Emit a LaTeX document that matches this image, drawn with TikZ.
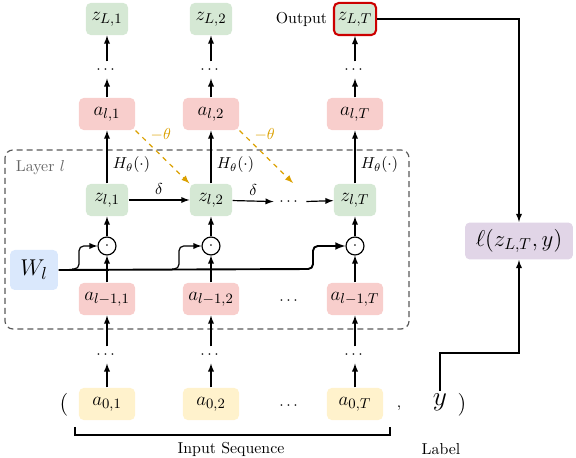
\documentclass[tikz,border=0pt]{standalone}
\usepackage{amssymb,amsmath}
\usepackage{tikz}
\usetikzlibrary{arrows}

\definecolor{zgreen}{HTML}{D5E8D4}
\definecolor{ared}{HTML}{F8CECC}
\definecolor{ayellow}{HTML}{FFF2CC}
\definecolor{wblue}{HTML}{DAE8FC}
\definecolor{lpurple}{HTML}{E1D5E7}
\definecolor{outred}{HTML}{CC0000}
\definecolor{gradorange}{HTML}{DBA000}

\begin{document}
\begin{tikzpicture}[x=0.63pt, y=-0.63pt, >=latex, line width=0.75pt,
  zbox/.style={fill=zgreen, rounded corners=3pt, minimum width=26.5pt, minimum height=20.2pt, inner sep=1pt, font=\fontsize{13}{15}\selectfont},
  abox/.style={fill=ared, rounded corners=3pt, minimum width=35.3pt, minimum height=20.2pt, inner sep=1pt, font=\fontsize{13}{15}\selectfont},
  inbox/.style={fill=ayellow, rounded corners=3pt, minimum width=35.3pt, minimum height=20.2pt, inner sep=1pt, font=\fontsize{13}{15}\selectfont},
  vdots/.style={inner sep=0pt, minimum height=10pt, minimum width=10pt},
  hdots/.style={inner sep=0pt, minimum height=10pt, minimum width=20pt},
  prod/.style={draw, circle, inner sep=0pt, minimum size=11.3pt}]
\useasboundingbox (0,0) rectangle (576,458);
\def \colA {107}
\def \colB {211}
\def \colT {355}

% layer box
\draw[black!65, dash pattern=on 3.8pt off 2.5pt, rounded corners=5pt] (5,150) rectangle (409,329);
\node[black!60, anchor=west] at (10,168) (layer) {Layer $l$};

% output row
\node[zbox] at (\colA,19) (zL1) {$z_{L,1}$};
\node[zbox] at (\colB,19) (zL2) {$z_{L,2}$};
\node[zbox, draw=outred, line width=1.3pt] at (\colT,19) (zLT) {$z_{L,T}$};
\node[anchor=east] at (zLT.west) (outlab) {Output};

\node[vdots] at (\colA,70) (d1) {$\cdots$};
\node[vdots] at (\colB,70) (d2) {$\cdots$};
\node[vdots] at (\colT,70) (dT) {$\cdots$};

\node[abox] at (\colA,114) (al1) {$a_{l,1}$};
\node[abox] at (\colB,114) (al2) {$a_{l,2}$};
\node[abox] at (\colT,114) (alT) {$a_{l,T}$};

\node[zbox] at (\colA,200) (zl1) {$z_{l,1}$};
\node[zbox] at (\colB,200) (zl2) {$z_{l,2}$};
\node[hdots] at (290,202) (zdots) {$\cdots$};
\node[zbox] at (\colT,200) (zlT) {$z_{l,T}$};

\node[prod] at (\colA,246) (p1) {$\cdot$};
\node[prod] at (\colB,246) (p2) {$\cdot$};
\node[prod] at (\colT,246) (pT) {$\cdot$};

\node[abox] at (\colA,299) (am1) {$a_{l-1,1}$};
\node[abox] at (\colB,299) (am2) {$a_{l-1,2}$};
\node[hdots] at (290,301) (amdots) {$\cdots$};
\node[abox] at (\colT,299) (amT) {$a_{l-1,T}$};

\node[vdots] at (\colA,355) (e1) {$\cdots$};
\node[vdots] at (\colB,355) (e2) {$\cdots$};
\node[vdots] at (\colT,355) (eT) {$\cdots$};

\node[inbox] at (\colA,404) (a01) {$a_{0,1}$};
\node[inbox] at (\colB,404) (a02) {$a_{0,2}$};
\node[hdots] at (290,406) (a0dots) {$\cdots$};
\node[inbox] at (\colT,404) (a0T) {$a_{0,T}$};

\node[font=\Large] at (64,405) (lpar) {(};
\node[anchor=base] at (399,408) (comma) {,};
\node[font=\LARGE, inner sep=1pt] at (440,402) (ylab) {$y$};
\node[font=\Large] at (462,405) (rpar) {)};

\node[fill=wblue, rounded corners=3pt, minimum width=30.2pt, minimum height=25.2pt, font=\fontsize{15}{18}\selectfont] at (34,270) (wl) {$W_l$};
\node[fill=lpurple, rounded corners=3pt, minimum width=68pt, minimum height=23.3pt, font=\fontsize{14}{17}\selectfont] at (519,241) (loss) {$\ell(z_{L,T},y)$};

% vertical flow
\draw[->] (d1) -- (zL1);
\draw[->] (d2) -- (zL2);
\draw[->] (dT) -- (zLT);
\draw[->] (al1) -- (d1);
\draw[->] (al2) -- (d2);
\draw[->] (alT) -- (dT);
\draw[->] (zl1) -- (al1) node[pos=0.35, right] {$H_\theta(\cdot)$};
\draw[->] (zl2) -- (al2) node[pos=0.35, right] {$H_\theta(\cdot)$};
\draw[->] (zlT) -- (alT) node[pos=0.35, right] {$H_\theta(\cdot)$};
\draw[->] (p1) -- (zl1);
\draw[->] (p2) -- (zl2);
\draw[->] (pT) -- (zlT);
\draw[->] (am1) -- (p1);
\draw[->] (am2) -- (p2);
\draw[->] (amT) -- (pT);
\draw[->] (e1) -- (am1);
\draw[->] (e2) -- (am2);
\draw[->] (eT) -- (amT);
\draw[->] (a01) -- (e1);
\draw[->] (a02) -- (e2);
\draw[->] (a0T) -- (eT);

% recurrence
\draw[->] (zl1) -- (zl2) node[midway, above] {$\delta$};
\draw[->] (zl2) -- (zdots) node[midway, above] {$\delta$};
\draw[->] (zdots) -- (zlT);

% gradient
\coordinate (g2) at (293,183);
\draw[->, dashed, gradorange] (al1.south east) -- (zl2.north west) node[pos=0.24, above right, inner sep=1pt] {$-\theta$};
\draw[->, dashed, gradorange] (al2.south east) -- (g2) node[pos=0.24, above right, inner sep=1pt] {$-\theta$};

% weights
\coordinate (w1) at (72,269);
\coordinate (w2) at (172,269);
\draw[line width=1.2pt, rounded corners=3pt, ->] (wl.east) -- (313,269) |- (pT.west);
\draw[->, rounded corners=3pt] (w1) -- ++(7,0) |- (p1.west);
\draw[->, rounded corners=3pt] (w2) -- ++(7,0) |- (p2.west);

% loss
\draw[->] (zLT.east) -| (loss.north);
\coordinate (ybend) at (519,353);
\draw[->] (ylab.north) |- (ybend) -- (loss.south);

% input bracket
\draw (75,427) -- (75,435) -- (390,435) -- (390,427);
\node at (231,449) (inlab) {Input Sequence};
\node at (441,449) (lablab) {Label};

\end{tikzpicture}
\end{document}
